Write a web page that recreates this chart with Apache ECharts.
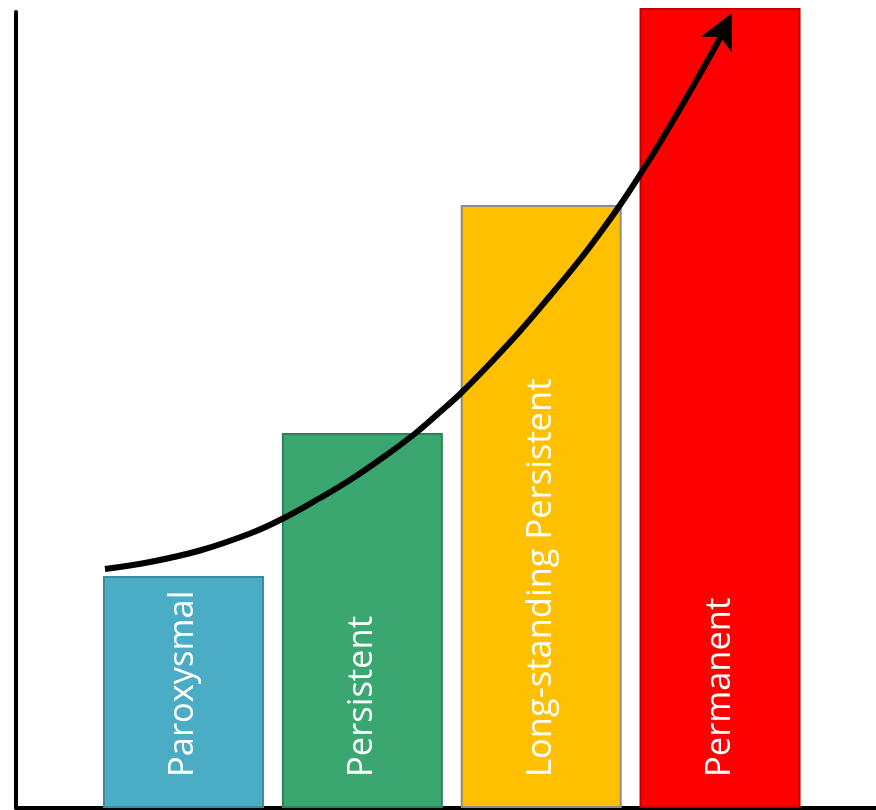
<!DOCTYPE html>
<html>
<head>
<meta charset="utf-8">
<script src="https://cdn.jsdelivr.net/npm/echarts@6/dist/echarts.min.js"></script>
<style>html,body{margin:0;padding:0;background:#fff;}#c{width:876px;height:810px;}</style>
</head>
<body>
<div id="c"></div>
<script>
// Categories and bar values (relative scale)
const categories = ['Paroxysmal', 'Persistent', 'Long-standing Persistent', 'Permanent'];
const barPositions = [1, 2, 3, 4];
const barValues = [2.32, 3.75, 6.03, 8.0];
const barColors = ['#4BACC6', '#3AA771', '#FFC000', '#FF0000'];
const barBorders = ['#3A8DA5', '#2E8158', '#8C8C8C', '#C00000'];

// Arrow curve
const arrowX = [0.561, 0.813, 1.092, 1.372, 1.551, 1.763, 1.931, 2.127, 2.295, 2.434, 2.552, 2.714, 2.882, 3.049, 3.217, 3.329, 3.441, 3.553, 3.665, 3.776, 3.888, 3.982, 4.011];
const arrowY = [2.39, 2.46, 2.575, 2.745, 2.89, 3.10, 3.28, 3.52, 3.745, 3.96, 4.15, 4.445, 4.77, 5.12, 5.485, 5.75, 6.03, 6.335, 6.655, 6.99, 7.34, 7.64, 7.74];
// Arrow head tip
const arrowTip = [4.0655, 7.947];

const chart = echarts.init(document.getElementById('c'), null, {renderer: 'canvas'});

const barData = barValues.map((v, i) => ({
  value: [barPositions[i], v],
  name: categories[i],
  itemStyle: { color: barColors[i], borderColor: barBorders[i], borderWidth: 2 }
}));

const curveData = arrowX.map((x, i) => [x, arrowY[i]]);

chart.setOption({
  animation: false,
  grid: { left: 16, right: 0, top: 12, bottom: 2, containLabel: false },
  xAxis: {
    type: 'value', min: 0.0634, max: 4.872,
    axisLine: { show: true, onZero: false, lineStyle: { color: '#000', width: 4 } },
    axisTick: { show: false }, axisLabel: { show: false }, splitLine: { show: false }
  },
  yAxis: {
    type: 'value', min: 0, max: 7.96,
    axisLine: { show: true, onZero: false, lineStyle: { color: '#000', width: 4 } },
    axisTick: { show: false }, axisLabel: { show: false }, splitLine: { show: false }
  },
  series: [
    {
      type: 'bar',
      data: barData,
      barWidth: 161,
      clip: false,
      z: 2,
      label: {
        show: true,
        position: 'insideBottom',
        rotate: 90,
        align: 'left',
        verticalAlign: 'middle',
        distance: 31,
        color: '#fff',
        fontFamily: 'Open Sans',
        fontSize: 34.5,
        formatter: p => p.name
      }
    },
    {
      type: 'line',
      data: curveData,
      smooth: 0.4,
      clip: false,
      z: 5,
      symbol: 'none',
      lineStyle: { color: '#000', width: 6 }
    },
    {
      type: 'scatter',
      data: [arrowTip],
      symbol: 'arrow',
      symbolSize: [26, 35],
      symbolRotate: -26.5,
      clip: false,
      z: 6,
      itemStyle: { color: '#000', opacity: 1 }
    }
  ]
});
</script>
</body>
</html>
